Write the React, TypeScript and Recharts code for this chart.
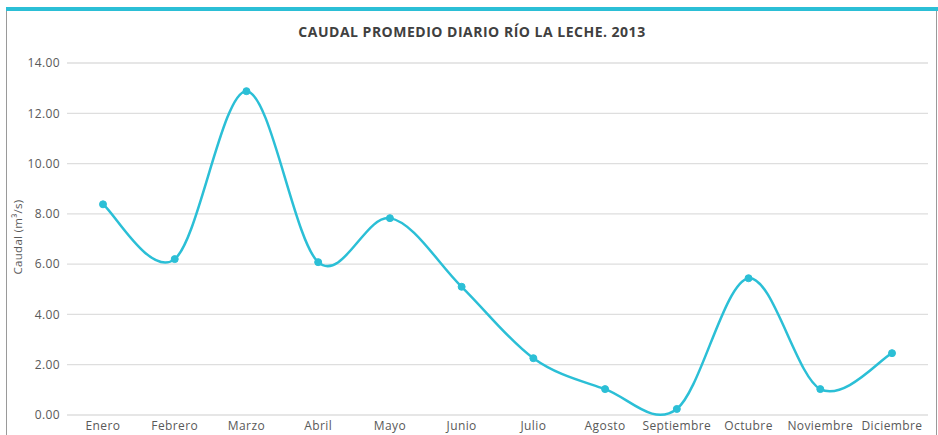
import React from "react";
import { LineChart, Line, XAxis, YAxis, CartesianGrid } from "recharts";

const months = ["Enero", "Febrero", "Marzo", "Abril", "Mayo", "Junio", "Julio", "Agosto", "Septiembre", "Octubre", "Noviembre", "Diciembre"];
const caudal = [8.38, 6.2, 12.88, 6.08, 7.83, 5.1, 2.26, 1.03, 0.24, 5.44, 1.03, 2.46];
const yTicks = [0, 2, 4, 6, 8, 10, 12, 14];

const data = months.map((mes, i) => ({ mes, caudal: caudal[i] }));

const CYAN = "#2bbfd6";

// catmull-rom style bezier, like the office "smoothed line"
function smoothCurve(context: any) {
    let pts: number[][] = [];
    return {
        areaStart() {},
        areaEnd() {},
        lineStart() { pts = []; },
        lineEnd() {
            if (!pts.length) return;
            context.moveTo(pts[0][0], pts[0][1]);
            for (let i = 0; i < pts.length - 1; i++) {
                const p0 = pts[i - 1] || pts[i];
                const p1 = pts[i];
                const p2 = pts[i + 1];
                const p3 = pts[i + 2] || p2;
                context.bezierCurveTo(
                    p1[0] + (p2[0] - p0[0]) / 6, p1[1] + (p2[1] - p0[1]) / 6,
                    p2[0] - (p3[0] - p1[0]) / 6, p2[1] - (p3[1] - p1[1]) / 6,
                    p2[0], p2[1]
                );
            }
        },
        point(x: number, y: number) { pts.push([+x, +y]); },
    };
}

export default function App() {
    const font = "'Open Sans', sans-serif";
    const tickStyle = { fill: "#595959", fontSize: 12, fontFamily: font, letterSpacing: 0.4 };
    return (
        <div style={{ position: "absolute", left: 0, top: 0, width: 938, height: 435, background: "#fff", fontFamily: font }}>
            <div style={{ position: "absolute", left: 6, top: 7, width: 932, height: 4, background: CYAN }} />
            <div style={{ position: "absolute", left: 6, top: 11, width: 1, height: 424, background: "#9a9a9a" }} />
            <div style={{ position: "absolute", left: 936, top: 11, width: 1, height: 424, background: "#9a9a9a" }} />
            <LineChart width={938} height={435} data={data} margin={{ top: 63, right: 10, bottom: 0, left: 0 }}>
                <text x={472} y={37} textAnchor="middle" fontSize={14} fontWeight={700} fill="#404040" fontFamily={font} letterSpacing={0.5}>
                    CAUDAL PROMEDIO DIARIO RÍO LA LECHE. 2013
                </text>
                <text transform="translate(22,237) rotate(-90)" textAnchor="middle" fontSize={11.5} fill="#595959" fontFamily={font} letterSpacing={0.3}>
                    Caudal (m³/s)
                </text>
                <CartesianGrid vertical={false} stroke="#dedede" strokeWidth={1.3} />
                <XAxis
                    dataKey="mes"
                    height={20}
                    padding={{ left: 36, right: 36 }}
                    axisLine={false}
                    tickLine={false}
                    tickSize={6}
                    tickMargin={0}
                    interval={0}
                    tick={tickStyle}
                />
                <YAxis
                    width={67}
                    domain={[0, 14]}
                    ticks={yTicks}
                    tickFormatter={(v: number) => v.toFixed(2)}
                    axisLine={false}
                    tickLine={false}
                    tickSize={5}
                    tickMargin={2}
                    tick={tickStyle}
                />
                <Line
                    type={smoothCurve as any}
                    dataKey="caudal"
                    stroke={CYAN}
                    strokeWidth={2.5}
                    dot={{ r: 3.5, fill: CYAN, stroke: CYAN, strokeWidth: 1 }}
                    isAnimationActive={false}
                />
            </LineChart>
        </div>
    );
}
